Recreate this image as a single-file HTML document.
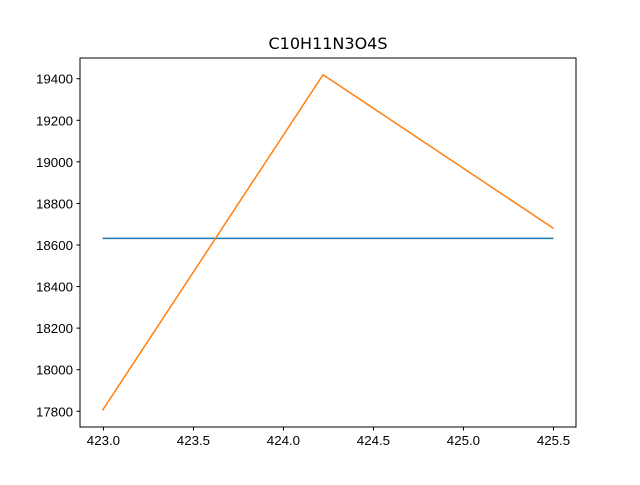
<!DOCTYPE html>
<html><head><meta charset="utf-8"><style>
body{margin:0;background:#fff}
svg text{font-family:"Liberation Sans","DejaVu Sans",sans-serif;font-size:13.3px;fill:#000}
</style></head><body>
<svg id="chart" width="640" height="480">
<rect width="640" height="480" fill="#fff"/>
<text x="328" y="49" text-anchor="middle" style="font-size:16px;font-family:'DejaVu Sans',sans-serif">C10H11N3O4S</text>
<g id="marks"></g>
<rect x="80" y="58" width="496" height="369" fill="none" stroke="#000" stroke-width="1"/>
<g id="ticks"></g>
</svg>
<script>
const blueX = [422.995, 425.5];
const blueY = [18632, 18632];
const orangeX = [422.995, 424.22, 425.5];
const orangeY = [17805, 19419, 18680];
const xTicks = [423.0, 423.5, 424.0, 424.5, 425.0, 425.5];
const yTicks = [17800, 18000, 18200, 18400, 18600, 18800, 19000, 19200, 19400];

const L=80,R=576,T=58,B=427;
const allX=blueX.concat(orangeX), allY=blueY.concat(orangeY);
let xmin=Math.min(...allX), xmax=Math.max(...allX), ymin=Math.min(...allY), ymax=Math.max(...allY);
const mx=(xmax-xmin)*0.05, my=(ymax-ymin)*0.05;
xmin-=mx;xmax+=mx;ymin-=my;ymax+=my;
const sx=v=>L+(v-xmin)/(xmax-xmin)*(R-L);
const sy=v=>B-(v-ymin)/(ymax-ymin)*(B-T);
const NS='http://www.w3.org/2000/svg';
const marks=document.getElementById('marks'), ticks=document.getElementById('ticks');
function line(xs,ys,color,name){
  const p=document.createElementNS(NS,'polyline');
  p.setAttribute('points',xs.map((x,i)=>sx(x)+','+sy(ys[i])).join(' '));
  p.setAttribute('fill','none');p.setAttribute('stroke',color);p.setAttribute('stroke-width','1.5');
  
  
  marks.appendChild(p);
}
line(blueX,blueY,'#1f77b4','series-blue-line');
line(orangeX,orangeY,'#ff7f0e','series-orange-line');
xTicks.forEach(v=>{
  const x=sx(v);
  const l=document.createElementNS(NS,'line');
  l.setAttribute('x1',x);l.setAttribute('x2',x);l.setAttribute('y1',B);l.setAttribute('y2',B+3.5);l.setAttribute('stroke','#000');
  
  
  ticks.appendChild(l);
  const t=document.createElementNS(NS,'text');
  t.setAttribute('x',x);t.setAttribute('y',B+18);t.setAttribute('text-anchor','middle');
  t.textContent=v.toFixed(1);
  
  
  ticks.appendChild(t);
});
yTicks.forEach(v=>{
  const y=sy(v);
  const l=document.createElementNS(NS,'line');
  l.setAttribute('x1',L-3.5);l.setAttribute('x2',L);l.setAttribute('y1',y);l.setAttribute('y2',y);l.setAttribute('stroke','#000');
  
  
  ticks.appendChild(l);
  const t=document.createElementNS(NS,'text');
  t.setAttribute('x',L-7);t.setAttribute('y',y+5);t.setAttribute('text-anchor','end');
  t.textContent=v;
  
  
  ticks.appendChild(t);
});
</script>
</body></html>
